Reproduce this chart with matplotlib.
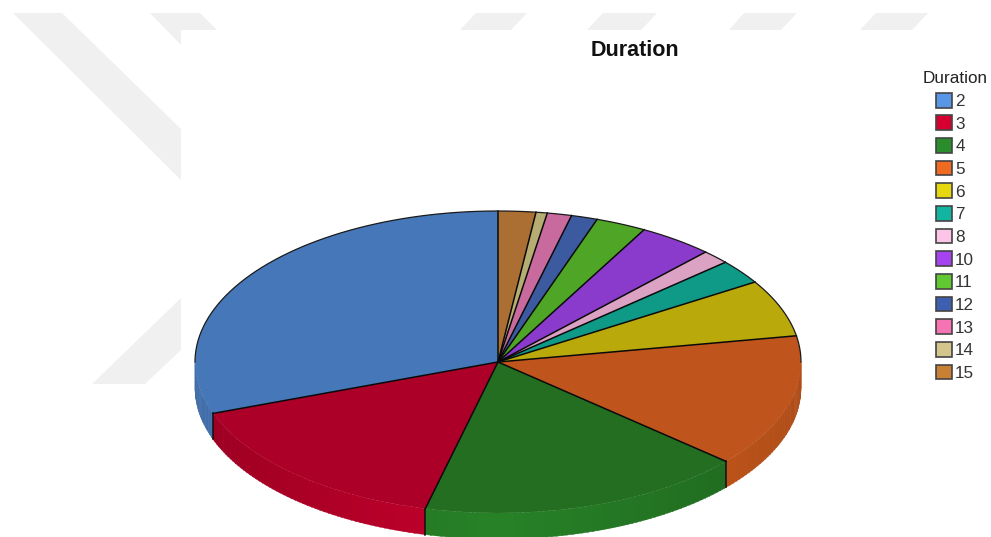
import numpy as np
import matplotlib
matplotlib.use("Agg")
import matplotlib.pyplot as plt
from matplotlib.colors import to_rgb
from matplotlib.patches import Patch

plt.rcParams['font.family'] = ['Liberation Sans', 'DejaVu Sans']

durations = ["2", "3", "4", "5", "6", "7", "8", "10", "11", "12", "13", "14", "15"]
shares = [30.5, 15.6, 17.4, 14.2, 6.1, 2.6, 1.5, 4.0, 2.7, 1.4, 1.3, 0.6, 2.0]

top_colors = ["#4677b8", "#ad0029", "#236e20", "#c0541d", "#b9a90a", "#0f9a87", "#dba2c4",
              "#8b3bcb", "#4fa526", "#3c5aa0", "#c96a9e", "#b5ad72", "#ac6f33"]
legend_colors = ["#5a96e6", "#d5002f", "#2a8c2a", "#f06a22", "#e6d80c", "#12b5a0", "#fcc4e6",
                 "#a642f0", "#62c832", "#3c5fb0", "#f674b4", "#d2c68a", "#c88036"]

W, H = 991, 537
cx, cy = 498, 362
rx, ry = 303, 151
depth = 26 / ry

fig = plt.figure(figsize=(W / 100, H / 100), dpi=100, facecolor="white")

# watermark, pixel coordinates
bg = fig.add_axes([0, 0, 1, 1], zorder=0)
bg.set_xlim(0, W)
bg.set_ylim(H, 0)
bg.axis("off")
marks = [
    [(13, 13), (62, 13), (181, 129), (181, 180)],
    [(150, 13), (200, 13), (217, 30), (181, 30), (181, 45)],
    [(460, 30), (476, 13), (527, 13), (511, 30)],
    [(587, 30), (603, 13), (657, 13), (641, 30)],
    [(729, 30), (744, 13), (797, 13), (781, 30)],
    [(860, 30), (876, 13), (928, 13), (912, 30)],
    [(92, 384), (145, 384), (181, 350), (181, 298)],
]
for m in marks:
    bg.fill([p[0] for p in m], [p[1] for p in m], color="#f0f0f0", lw=0)

ax = fig.add_axes([0, 0, 1, 1], zorder=1)
ax.patch.set_alpha(0)

# side wall of the disc
ends = 90 + 360 * np.cumsum(shares) / np.sum(shares)
starts = np.r_[90, ends[:-1]]
for s, e, c in zip(starts, ends, legend_colors):
    lo, hi = max(s, 180), min(e, 360)
    if lo >= hi:
        continue
    for a in np.arange(lo, hi, 1.0):
        b = min(a + 1.2, hi)
        t = np.radians([a, b])
        shade = 0.93 - 0.2 * abs(np.cos(np.radians((a + b) / 2)))
        col = tuple(v * shade for v in to_rgb(c))
        ax.fill([np.cos(t[0]), np.cos(t[1]), np.cos(t[1]), np.cos(t[0])],
                [np.sin(t[0]), np.sin(t[1]), np.sin(t[1]) - depth, np.sin(t[0]) - depth],
                color=col, lw=0.3)

ax.pie(shares, colors=top_colors, startangle=90, counterclock=True,
       wedgeprops=dict(edgecolor="none", linewidth=0))

# slice edges and the upper rim only, the front rim has no line
for a in ends:
    t = np.radians(a)
    ax.plot([0, np.cos(t)], [0, np.sin(t)], color="#0a0a0a", lw=1.1, zorder=5)
    if 180 < a < 360:
        ax.plot([np.cos(t)] * 2, [np.sin(t), np.sin(t) - depth], color="#101010", lw=1.1, zorder=5)
rim = np.radians(np.linspace(0, 180, 200))
ax.plot(np.cos(rim), np.sin(rim), color="#1a1a1a", lw=0.9, zorder=5)

ax.set_aspect("auto")
ax.set_xlim(-cx / rx, (W - cx) / rx)
ax.set_ylim((cy - H) / ry, cy / ry)

fig.text(635 / W, 1 - 50 / H, "Duration", fontsize=15.5, fontweight="bold",
         ha="center", va="center", color="#111111")

handles = [Patch(facecolor=c, edgecolor="#444444", linewidth=1.2) for c in legend_colors]
leg = bg.legend(handles, durations, title="Duration", loc="upper left",
                bbox_to_anchor=(919 / W, 1 - 68 / H), frameon=False, fontsize=12.3,
                title_fontsize=12.3, handlelength=0.95, handleheight=0.95, handletextpad=0.2,
                labelspacing=0.375, borderpad=0.2, borderaxespad=0, labelcolor="#333333")
leg.get_title().set_color("#222222")

fig.savefig("out.png", dpi=100)
